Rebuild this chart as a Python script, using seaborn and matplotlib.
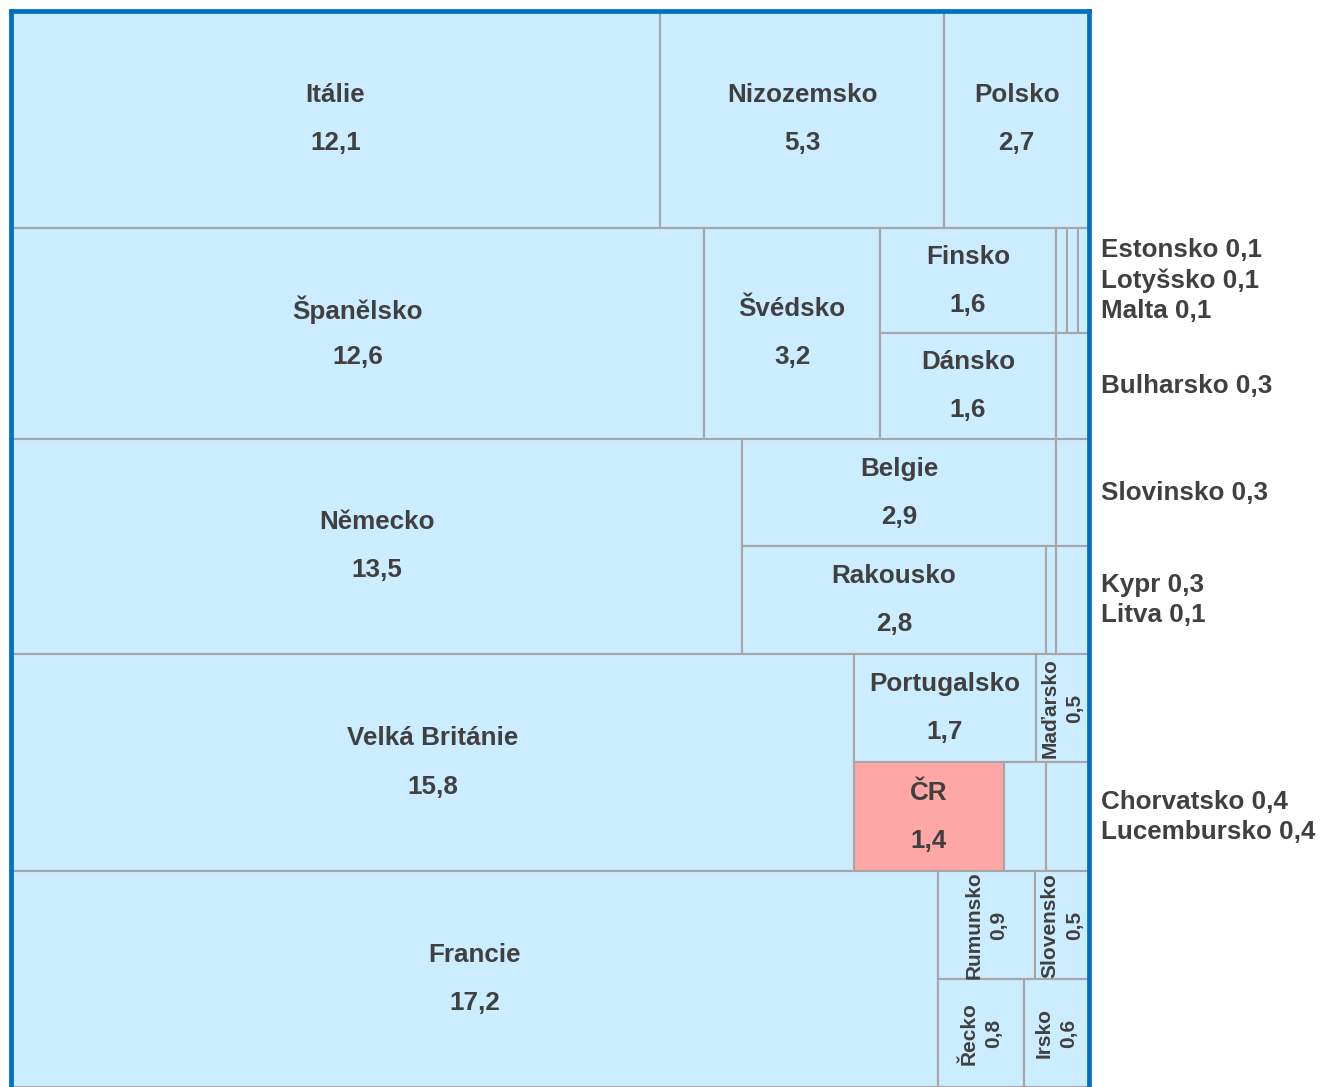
import matplotlib
matplotlib.use("Agg")
import matplotlib.pyplot as plt
import seaborn as sns
from matplotlib.patches import Rectangle

# podíly zemí (%)
countries = ["Itálie", "Nizozemsko", "Polsko",
             "Španělsko", "Švédsko", "Finsko", "Estonsko", "Lotyšsko", "Malta", "Dánsko", "Bulharsko",
             "Německo", "Belgie", "Slovinsko", "Rakousko", "Litva", "Kypr",
             "Velká Británie", "Portugalsko", "Maďarsko", "ČR", "Chorvatsko", "Lucembursko",
             "Francie", "Rumunsko", "Slovensko", "Řecko", "Irsko"]
shares = [12.1, 5.3, 2.7,
          12.6, 3.2, 1.6, 0.1, 0.1, 0.1, 1.6, 0.3,
          13.5, 2.9, 0.3, 2.8, 0.1, 0.3,
          15.8, 1.7, 0.5, 1.4, 0.4, 0.4,
          17.2, 0.9, 0.5, 0.8, 0.6]

# rozvržení: řádky -> bloky -> podřádky -> země
layout = [
    [[["Itálie"]], [["Nizozemsko"]], [["Polsko"]]],
    [[["Španělsko"]], [["Švédsko"]],
     [["Finsko", "Estonsko", "Lotyšsko", "Malta"], ["Dánsko", "Bulharsko"]]],
    [[["Německo"]], [["Belgie", "Slovinsko"], ["Rakousko", "Litva", "Kypr"]]],
    [[["Velká Británie"]], [["Portugalsko", "Maďarsko"], ["ČR", "Chorvatsko", "Lucembursko"]]],
    [[["Francie"]], [["Rumunsko", "Slovensko"], ["Řecko", "Irsko"]]],
]
vertical = ["Maďarsko", "Rumunsko", "Slovensko", "Řecko", "Irsko"]
outside = ["Estonsko", "Lotyšsko", "Malta", "Bulharsko", "Slovinsko",
           "Kypr", "Litva", "Chorvatsko", "Lucembursko"]
highlight = "ČR"

sns.set_theme(style="white")
plt.rcParams['font.family'] = ['Liberation Sans', 'DejaVu Sans']

FILL = "#CCECFF"
HL_FILL = "#FFA6A6"
EDGE = "#A6A6A6"
TXT = "#404040"
FRAME = "#0070C0"

val = dict(zip(countries, shares))
fmt = lambda v: f"{v:.1f}".replace(".", ",")
total = sum(shares)

fig = plt.figure(figsize=(13.22, 10.87), dpi=100)
ax = fig.add_axes([11 / 1322, 0, 1078 / 1322, 1076 / 1087])
ax.set_xlim(0, 1)
ax.set_ylim(1, 0)
ax.set_xticks([])
ax.set_yticks([])

y0 = 0
for row in layout:
    row_sum = sum(val[n] for block in row for sub in block for n in sub)
    h = row_sum / total
    x0 = 0
    for block in row:
        block_sum = sum(val[n] for sub in block for n in sub)
        w = block_sum / row_sum
        yy = y0
        for sub in block:
            sub_sum = sum(val[n] for n in sub)
            sh = h * sub_sum / block_sum
            xx = x0
            for n in sub:
                sw = w * val[n] / sub_sum
                ax.add_patch(Rectangle((xx, yy), sw, sh,
                                       facecolor=HL_FILL if n == highlight else FILL,
                                       edgecolor=EDGE, lw=1.5))
                cx, cy = xx + sw / 2, yy + sh / 2
                if n in vertical:
                    ax.text(cx, cy, f"{n}\n{fmt(val[n])}", rotation=90, ha="center",
                            va="center", fontsize=15, fontweight="bold", color=TXT,
                            linespacing=1.35)
                elif n not in outside:
                    ax.annotate(n, (cx, cy), xytext=(0, 17.3), textcoords="offset points",
                                ha="center", va="center", fontsize=18.7,
                                fontweight="bold", color=TXT)
                    ax.annotate(fmt(val[n]), (cx, cy), xytext=(0, -17.3),
                                textcoords="offset points", ha="center", va="center",
                                fontsize=18.7, fontweight="bold", color=TXT)
                xx += sw
            ext = [n for n in outside if n in sub]
            if ext:
                lbl = "\n".join(f"{n} {fmt(val[n])}" for n in ext)
                ax.annotate(lbl, (1, yy + sh / 2), xytext=(8.6, 0),
                            textcoords="offset points", ha="left", va="center",
                            fontsize=18.7, fontweight="bold", color=TXT,
                            linespacing=1.33, annotation_clip=False)
            yy += sh
        x0 += w
    y0 += h

for side in ["left", "top", "right"]:
    ax.spines[side].set_color(FRAME)
    ax.spines[side].set_linewidth(3.4)
    ax.spines[side].set_zorder(5)
ax.spines["bottom"].set_visible(False)

fig.savefig("out.png", dpi=100)
